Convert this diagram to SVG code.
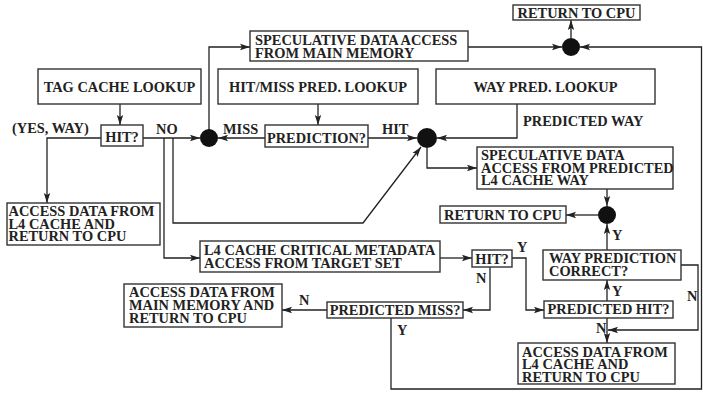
<svg xmlns="http://www.w3.org/2000/svg" width="703" height="397" viewBox="0 0 703 397">
<defs>
<marker id="ah" markerUnits="userSpaceOnUse" markerWidth="10" markerHeight="8" refX="10" refY="4" orient="auto">
<path d="M0,0.8 L10,4 L0,7.2 L2,4 z" fill="#222"/>
</marker>
<style>
.box{fill:#fff;stroke:#333;stroke-width:1.4}
.t{font-family:"Liberation Serif","Times New Roman",serif;font-weight:bold;font-size:14.4px;fill:#222}
.c{text-anchor:middle}
.ln{fill:none;stroke:#222;stroke-width:1.3;marker-end:url(#ah)}
.dot{fill:#111}
</style>
</defs>
<rect width="703" height="397" fill="#fff"/>
<g id="connectors">
<path class="ln" d="M120,104 V125"/>
<path class="ln" d="M101,138 H47 V203"/>
<path class="ln" d="M143,138 H200"/>
<path class="ln" d="M164,138 V258 H200"/>
<path class="ln" d="M173,138 V223 H363 L421,147"/>
<path class="ln" d="M265,138 H218"/>
<path class="ln" d="M368,138 H417"/>
<path class="ln" d="M318,104 V125"/>
<path class="ln" d="M209,130 V47 H250"/>
<path class="ln" d="M468,47 H562"/>
<path class="ln" d="M571,38 V20"/>
<path class="ln" d="M517,104 V138 H437"/>
<path class="ln" d="M427,148 V168 H477"/>
<path class="ln" d="M607,189 V206"/>
<path class="ln" d="M598,215 H566"/>
<path class="ln" d="M607,250 V224"/>
<path class="ln" d="M607,301 V280"/>
<path class="ln" d="M607,318 V343"/>
<path class="ln" d="M681,265 H698 V330 H608"/>
<path class="ln" d="M440,258 H472"/>
<path class="ln" d="M512,258 H526 V310 H544"/>
<path class="ln" d="M490,267 V310 H463"/>
<path class="ln" d="M327,310 H282"/>
<path class="ln" d="M391,318 V389 H701.5 V47 H580"/>
</g>
<g id="labels">
<text class="t" x="12" y="133">(YES, WAY)</text>
<text class="t" x="156" y="134">NO</text>
<text class="t" x="223" y="134">MISS</text>
<text class="t" x="382" y="134">HIT</text>
<text class="t" x="523" y="126">PREDICTED WAY</text>
<text class="t" x="612" y="240">Y</text>
<text class="t" x="612" y="296">Y</text>
<text class="t" x="596" y="333">N</text>
<text class="t" x="687" y="301">N</text>
<text class="t" x="517" y="252">Y</text>
<text class="t" x="476" y="283">N</text>
<text class="t" x="299" y="305">N</text>
<text class="t" x="397" y="335">Y</text>
</g>
<g id="dot1"><circle class="dot" cx="209" cy="138" r="9"/></g>
<g id="dot2"><circle class="dot" cx="571" cy="47" r="9"/></g>
<g id="dot3"><circle class="dot" cx="427" cy="138" r="10"/></g>
<g id="dot4"><circle class="dot" cx="607" cy="215" r="9"/></g>
<g id="tag-lookup"><rect class="box" x="38" y="69" width="163" height="35"/><text class="t c" x="119.5" y="92">TAG CACHE LOOKUP</text></g>
<g id="hm-lookup"><rect class="box" x="218" y="69" width="200" height="35"/><text class="t c" x="318" y="92">HIT/MISS PRED. LOOKUP</text></g>
<g id="way-lookup"><rect class="box" x="436" y="69" width="219" height="35"/><text class="t c" x="545.5" y="92">WAY PRED. LOOKUP</text></g>
<g id="hit1"><rect class="box" x="101" y="125" width="42" height="21"/><text class="t c" x="122" y="142">HIT?</text></g>
<g id="prediction"><rect class="box" x="265" y="125" width="103" height="22"/><text class="t c" x="316.5" y="143">PREDICTION?</text></g>
<g id="spec-main"><rect class="box" x="250" y="31" width="218" height="30"/><text class="t"><tspan x="255" y="45">SPECULATIVE DATA ACCESS</tspan><tspan x="255" y="58">FROM MAIN MEMORY</tspan></text></g>
<g id="return-top"><rect class="box" x="513" y="5" width="127" height="15"/><text class="t c" x="576.5" y="18">RETURN TO CPU</text></g>
<g id="spec-pred"><rect class="box" x="477" y="147" width="196" height="42"/><text class="t"><tspan x="481" y="160">SPECULATIVE DATA</tspan><tspan x="481" y="172.7">ACCESS FROM PREDICTED</tspan><tspan x="481" y="185.4">L4 CACHE WAY</tspan></text></g>
<g id="access-l4-left"><rect class="box" x="7" y="203" width="153" height="42"/><text class="t"><tspan x="8.5" y="216">ACCESS DATA FROM</tspan><tspan x="8.5" y="228.7">L4 CACHE AND</tspan><tspan x="8.5" y="241.4">RETURN TO CPU</tspan></text></g>
<g id="return-mid"><rect class="box" x="440" y="206" width="126" height="17"/><text class="t c" x="503" y="220">RETURN TO CPU</text></g>
<g id="l4-meta"><rect class="box" x="200" y="241" width="240" height="31"/><text class="t"><tspan x="204" y="255">L4 CACHE CRITICAL METADATA</tspan><tspan x="204" y="267.5">ACCESS FROM TARGET SET</tspan></text></g>
<g id="hit2"><rect class="box" x="472" y="250" width="40" height="17"/><text class="t c" x="492" y="264">HIT?</text></g>
<g id="way-correct"><rect class="box" x="543" y="250" width="138" height="30"/><text class="t"><tspan x="549" y="262.5">WAY PREDICTION</tspan><tspan x="549" y="276">CORRECT?</tspan></text></g>
<g id="pred-hit"><rect class="box" x="544" y="301" width="129" height="17"/><text class="t c" x="608.5" y="314">PREDICTED HIT?</text></g>
<g id="pred-miss"><rect class="box" x="327" y="302" width="136" height="16"/><text class="t c" x="395" y="315">PREDICTED MISS?</text></g>
<g id="access-main"><rect class="box" x="124" y="284" width="158" height="43"/><text class="t"><tspan x="129" y="297">ACCESS DATA FROM</tspan><tspan x="129" y="310">MAIN MEMORY AND</tspan><tspan x="129" y="322.7">RETURN TO CPU</tspan></text></g>
<g id="access-l4-right"><rect class="box" x="518" y="343" width="157" height="41"/><text class="t"><tspan x="522" y="356.5">ACCESS DATA FROM</tspan><tspan x="522" y="369">L4 CACHE AND</tspan><tspan x="522" y="381.5">RETURN TO CPU</tspan></text></g>
</svg>
